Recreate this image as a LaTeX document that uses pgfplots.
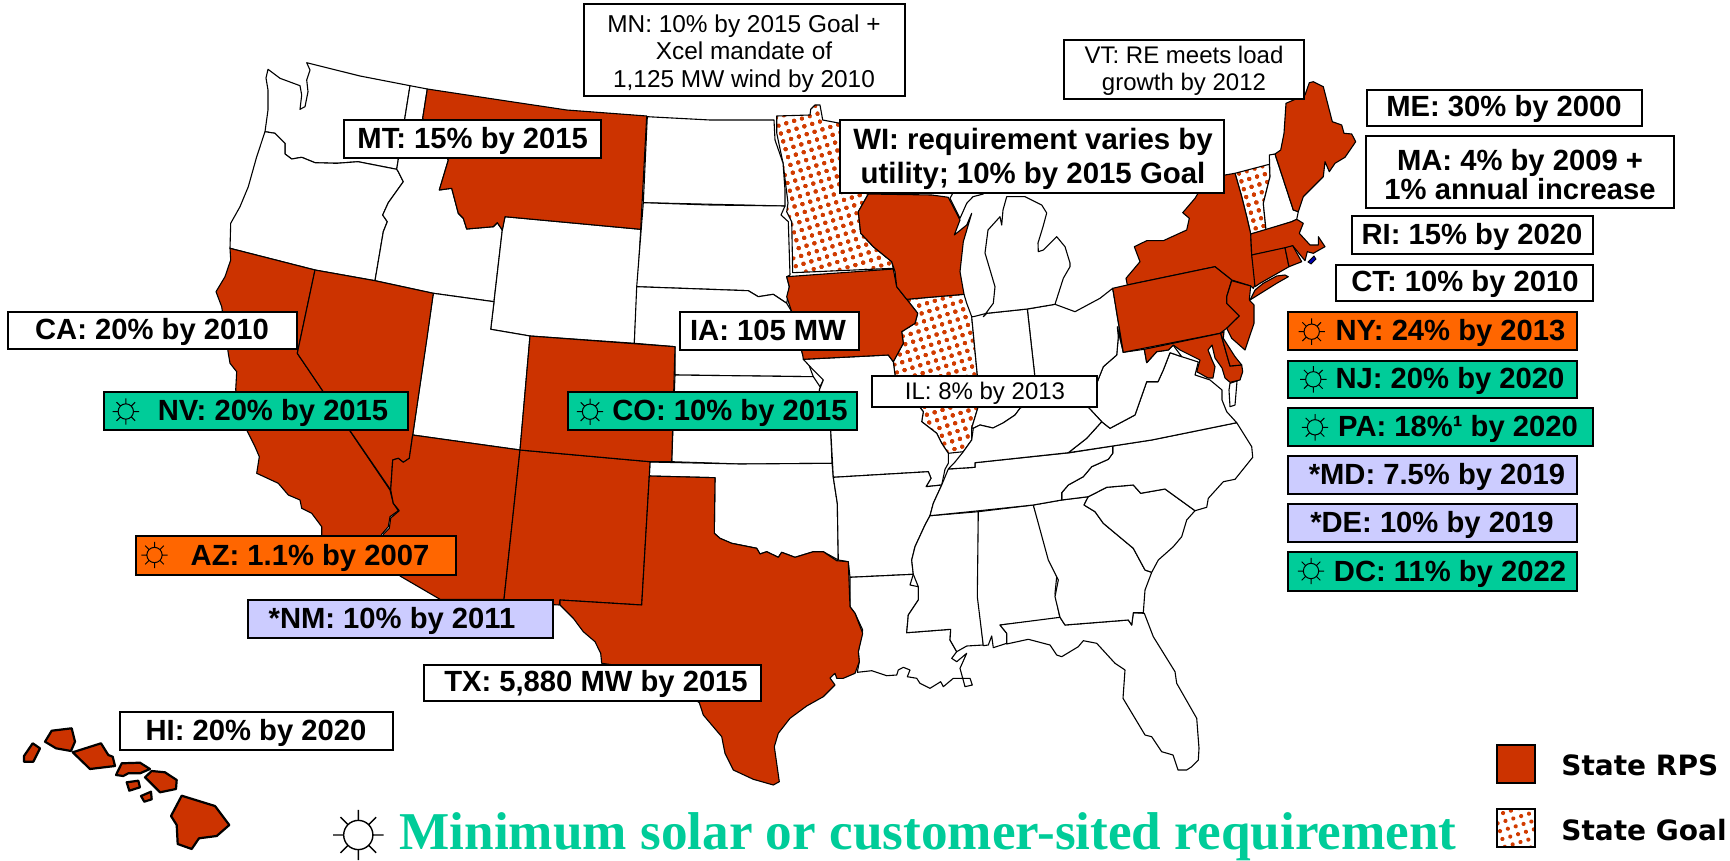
\documentclass[border=0pt]{standalone}
\usepackage{fontspec}
\setmainfont{Liberation Sans}
\newfontfamily\serifbold{Liberation Serif}
\newfontfamily\djv{DejaVu Sans}
\usepackage{pgfplots}
\pgfplotsset{compat=1.18}
\usetikzlibrary{patterns.meta}
\definecolor{rps}{HTML}{CC3300}
\definecolor{orng}{HTML}{FF6600}
\definecolor{teal2}{HTML}{00CC99}
\definecolor{lav}{HTML}{CCCCFF}
\tikzset{
 wst/.style={draw=black,line width=0.55pt,fill=white,line join=round},
 rst/.style={draw=black,line width=0.55pt,fill=rps,line join=round},
 gst/.style={draw=black,line width=0.55pt,line join=round,preaction={fill=white},
   pattern={Dots[distance=4.1pt,radius=1.05pt,angle=17]},pattern color=rps!90!orange,
   postaction={draw=white,line width=2.4pt},postaction={draw=black,line width=0.55pt}},
 hi/.style={draw=black,line width=1.1pt,fill=rps,line join=round},
}
\newcommand\st[2]{\addplot[#1] coordinates {#2} -- cycle;}
\newcommand\lab[7]{%
 \draw[fill=#5,draw=black,line width=1.15pt] (axis cs:#1,#2) rectangle (axis cs:#3,#4);
 \node[anchor=base,inner sep=0pt,font=\fontsize{14.6}{17}\selectfont\bfseries] at ([yshift=4.6pt]axis cs:#6,#4) {#7};}
\newcommand\bx[5]{\draw[fill=#5,draw=black,line width=1.15pt] (axis cs:#1,#2) rectangle (axis cs:#3,#4);}
\newcommand\txt[4]{\node[anchor=base,inner sep=0pt,font=#3] at (axis cs:#1,#2) {#4};}
\newcommand\sun[4]{\draw[shift={(axis cs:#1,#2)},line width=#4]
  (0,0) circle (#3*0.58)
  (0:#3*0.58)--(0:#3) (45:#3*0.58)--(45:#3) (90:#3*0.58)--(90:#3) (135:#3*0.58)--(135:#3)
  (180:#3*0.58)--(180:#3) (225:#3*0.58)--(225:#3) (270:#3*0.58)--(270:#3) (315:#3*0.58)--(315:#3);}
\begin{document}
\begin{tikzpicture}
\path[use as bounding box] (0,0) rectangle (865pt,430.5pt);
\begin{axis}[at={(0,0)},anchor=south west,scale only axis,width=865pt,height=430.5pt,
  xmin=0,xmax=1730,ymin=0,ymax=861,y dir=reverse,hide axis,clip=false]
% ---------- state goal (first: the neighbours' outlines lie over their white margin)
\st{gst}{(776.7,116)(810,115)(810.7,109.3)(815,105)(820,105)(822.7,120)(840,123.3)(868.3,194)(858.3,211.7)(860.7,233.3)(873.3,246.7)(891.7,261.7)(893.3,268.3)(792.7,272.7)(791.7,221.7)(786.7,211.7)(788,203)(783,163)(776.7,133)}
\st{gst}{(906.7,299.3)(964,294.3)(966.7,303.3)(971.7,316.7)(977.3,375)(977.7,408.3)(971.7,428)(971.7,440)(963.3,451.7)(948.3,453.3)(941.7,443.3)(936.7,433.3)(921.7,421.7)(923.3,411.7)(895,375)(893.3,361.7)(903.3,343.3)(901.7,331.7)(915,323.3)(917.7,313.3)}
\st{gst}{(1235,173.3)(1269.3,164.3)(1270,176.7)(1263.3,203.3)(1266,230)(1250.7,234)(1246.7,216.7)(1241.7,196.7)}
% ---------- white states
\st{wst}{(306.7,62.7)(360,76)(410,85.7)(396.7,169.3)(358,161.7)(336.7,163.3)(315,162.7)(301.7,157.3)(291.7,159)(285,154)(285,143.3)(275,133.3)(265,131.7)(268,110)(268,90)(266,78)(268,69.3)(280,78.3)(300,85.7)(301.7,95)(300,109.3)(305,106.7)(308,91.7)(306.7,80)(310,70)}
\st{wst}{(265,131.7)(275,133.3)(285,143.3)(285,154)(291.7,159)(301.7,157.3)(315,162.7)(336.7,163.3)(358,161.7)(396.7,169.3)(398.3,171.7)(403.3,181.7)(388.3,202.7)(382.7,215)(387.3,221.7)(383.3,231.7)(375,280.7)(315,270)(230,248.3)(230.7,223.3)(240,206.7)(248.3,186.7)(256.7,156.7)}
\st{wst}{(410,85.7)(427.3,89)(422.7,118.3)(448.3,160)(439.3,190)(451.7,188.3)(458.3,213.3)(463.3,218.3)(466.7,229)(493.3,226.7)(497.3,222.7)(502.3,230)(494,301.7)(433.3,293.3)(375,280.7)(383.3,231.7)(387.3,221.7)(382.7,215)(388.3,202.7)(403.3,181.7)(398.3,171.7)(396.7,169.3)}
\st{wst}{(505,216.7)(640.7,229.3)(634.3,343.3)(530,336)(490.7,329.3)(494,301.7)(502.3,230)}
\st{wst}{(433.3,293.3)(494,301.7)(490.7,329.3)(530,336)(520,450)(412.7,435)}
\st{wst}{(647.3,116.7)(710,120)(774,120)(775,140)(783,163)(785,190)(785,206)(643.3,202.7)}
\st{wst}{(643.3,202.7)(710,205)(785,206)(781,215)(788.3,221.7)(790,275)(786.7,276.7)(789.3,286.7)(786.7,303.3)(773.3,294.3)(758.3,296.7)(748.3,290.7)(636.7,286.7)}
\st{wst}{(636.7,286.7)(748.3,290.7)(758.3,296.7)(773.3,294.3)(786.7,303.3)(791.7,311.7)(802.7,355)(808.3,363.3)(813.3,376.7)(675,375)(675,346.7)(634.3,343.3)}
\st{wst}{(675,375)(813.3,376.7)(820,386.7)(823.3,380)(819.3,390)(830.7,430)(832,463.3)(740,464)(671.7,461.7)}
\st{wst}{(650,462)(740,464)(832,463.3)(833.3,477.3)(837.3,503.3)(838.3,560)(823.3,551.7)(813.3,551.7)(795,557.3)(781.7,552.3)(778.3,557.3)(766.7,551.7)(760,554)(756.7,548.3)(731.7,543.3)(720,538.3)(714.3,533.3)(715,477.7)(649.3,476)}
\st{wst}{(803.3,359.3)(888.3,355)(893.3,361.7)(895,375)(923.3,411.7)(921.7,421.7)(936.7,433.3)(941.7,443.3)(948.3,453.3)(948.3,463.3)(945,469.3)(941.7,485)(926,486.7)(931,478.3)(928.3,471.7)(833.3,477.3)(830.7,430)(819.3,390)(823.3,380)(813.3,370)}
\st{wst}{(833.3,477.3)(928.3,471.7)(931,478.3)(926,486.7)(941.7,485)(933.3,503.3)(930,515.7)(925,525)(915,546.7)(911.7,560)(913.3,574.3)(850,577.3)(848.3,561.7)(838.3,560)(837.3,503.3)}
\st{wst}{(850,577.3)(913.3,574.3)(910,585)(918.3,586.7)(918.3,600)(908.3,615)(906.7,632.7)(950.7,629.3)(950,640)(956.7,651.7)(951.7,658.3)(956.7,661.7)(966.7,653.3)(960,668.3)(965,686.7)(972.3,685)(970,678.3)(953.3,678.3)(943.3,686.7)(940.7,681.7)(930,688.3)(920,683.3)(916.7,678.3)(907.3,676.7)(910,670)(903.3,667.3)(898.3,670)(896.7,675)(886.7,675.7)(871.7,670.7)(857.3,672.3)(859.3,661.7)(858.3,651.7)(862.7,630)(855,613.3)(850,606.7)}
\st{wst}{(930,515.7)(978.3,511.7)(978.3,596.7)(983.3,645)(966.7,646)(956.7,651.7)(950,640)(950.7,629.3)(906.7,632.7)(908.3,615)(918.3,600)(918.3,586.7)(913.3,574.3)(911.7,560)(915,546.7)(925,525)}
\st{wst}{(978.3,511.7)(1033.3,505)(1043.3,536.7)(1056.7,576.7)(1055,593.3)(1060,618.3)(1000,625)(1006.7,633.3)(1006.7,643.3)(993.3,647.7)(991.7,636)(988.3,645)(983.3,645.7)(977.3,596.7)}
\st{wst}{(1000,625)(1060,617.3)(1065,625)(1128.3,620)(1131.7,625)(1133.3,612.7)(1144.3,613.3)(1153.3,636.7)(1175,671.7)(1176.7,683.3)(1196.7,718.3)(1199,748.3)(1198.3,760)(1191.7,766.7)(1186.7,770)(1178,770)(1173,755)(1161.7,751.7)(1151.7,736.7)(1145,735)(1130,710)(1123,698.3)(1125,670)(1115,663.3)(1096.7,643.3)(1083.3,640.7)(1078.3,646.7)(1061.7,656.7)(1056.7,655)(1050,645)(1028.3,639.3)(1006.7,644)(1006.7,633.3)}
\st{wst}{(1033.3,505)(1061.7,500)(1088.3,496.7)(1084,505)(1095,511.7)(1103.3,523.3)(1123.3,540)(1133.3,548.3)(1145,570)(1151.7,572.3)(1145,590)(1143.3,612.7)(1133.3,612.7)(1131.7,625)(1128.3,620)(1065,625)(1060,617.3)(1055,596.7)(1058.3,580)(1048.3,560)}
\st{wst}{(1088.3,496.7)(1106.7,487.3)(1133.3,485)(1140.7,493.3)(1165,489)(1195,510.7)(1186.7,520)(1181.7,536.7)(1173.3,546.7)(1158.3,560)(1151.7,572.3)(1145,570)(1133.3,548.3)(1123.3,540)(1103.3,523.3)(1095,511.7)(1084,505)}
\st{wst}{(1236.7,422.7)(1251.7,446.7)(1252.7,457.3)(1235,479.3)(1223.3,481.7)(1208.3,498.3)(1206.7,507.3)(1195,510.7)(1165,489)(1140.7,493.3)(1133.3,485)(1106.7,487.3)(1088.3,496.7)(1061.7,500)(1061.7,492.7)(1068.3,485)(1083.3,476.7)(1091.7,466.7)(1108.3,459.3)(1112.7,453.3)(1112.7,446)(1151.7,440)}
\st{wst}{(948.3,469)(975,467.3)(975,462.7)(1070,452.7)(1112.7,446)(1112.7,453.3)(1108.3,459.3)(1091.7,466.7)(1083.3,476.7)(1068.3,485)(1061.7,492.7)(1061.7,500)(1033.3,505)(976.7,511)(930,515.7)(933.3,503.3)(941.7,485)}
\st{wst}{(1068.3,452.7)(1086.7,438.3)(1101.7,421.7)(1110,428.3)(1135,415)(1146.7,381.7)(1158,381.7)(1163.3,370)(1170,352.7)(1181.7,356.7)(1198.3,362)(1195,375)(1210,380)(1222,390)(1222,400)(1226.7,411.7)(1236.7,422.7)(1151.7,440)(1112.7,446)}
\st{wst}{(1230,383.3)(1237,381)(1235,405)(1230,406.7)(1229,390)}
\st{wst}{(1117.3,326.7)(1123.3,352.3)(1144.3,349.3)(1146.7,362.7)(1156.7,351.7)(1168.3,350)(1173,345)(1181.7,356.7)(1170,352.7)(1163.3,370)(1158,381.7)(1146.7,381.7)(1135,415)(1110,428.3)(1101.7,421.7)(1088.3,407.3)(1098,380)(1103.3,366.7)(1116.7,355)(1118.3,336.7)}
\st{wst}{(1112.7,288.3)(1123.3,352.3)(1117.3,326.7)(1118.3,336.7)(1116.7,355)(1103.3,366.7)(1098,380)(1088.3,407.3)(1060,395)(1035,378)(1027.3,309)(1055,304.3)(1075,311.7)(1100,298.3)}
\st{wst}{(973.3,316.7)(986.7,313.3)(1027.3,309)(1035,378)(1033,400)(1020,408.3)(1015,415)(1003,423)(993,428)(980,425)(973.3,428.3)(971.7,428)(977.7,408.3)(977.3,375)(971.7,316.7)}
\st{wst}{(1020,408.3)(1033,400)(1035,378)(1060,395)(1088.3,407.3)(1101.7,421.7)(1086.7,438.3)(1068.3,452.7)(975,462.7)(975,467.3)(948.3,469)(955,462)(963.3,451.7)(971.7,440)(973.3,428.3)(980,425)(993,428)(1003,423)(1015,415)}
\st{wst}{(995,286.7)(993.3,303.3)(983.3,316.7)(986.7,313.3)(1027.3,309)(1055,304.3)(1063.3,278.3)(1070,266.7)(1070,263)(1065,246.7)(1056.7,236.7)(1043.3,250)(1038.3,251.7)(1038,243)(1043,226.7)(1046.7,213)(1041.7,205)(1025,196.7)(1006.7,196.7)(1003,210)(1001.7,225)(1000,216.7)(988,230)(985,253)}
\st{wst}{(950,198.3)(960,218.3)(966.7,203.3)(973,196.7)(983.3,194)(960,180)}
\st{wst}{(1275,154)(1293.3,210)(1298.3,211.7)(1296.7,219.3)(1291.7,221.7)(1266,230)(1263.3,203.3)(1270,176.7)(1269.3,155)}
% ---------- state RPS
\st{rst}{(427.3,89)(500,100)(566.7,110)(646.7,116)(640.7,229.3)(505,216.7)(502.3,230)(497.3,222.7)(493.3,226.7)(466.7,229)(463.3,218.3)(458.3,213.3)(451.7,188.3)(439.3,190)(448.3,160)(422.7,118.3)}
\st{rst}{(230,248.3)(315,270)(297.3,353.3)(323.3,391.7)(390,490)(393.3,503.3)(398.3,510.7)(390,516.7)(388.3,526.7)(381.7,534.3)(378,548)(321.7,545)(321.7,526.7)(311.7,513.3)(301.7,508.3)(300,500)(288.3,495)(278.3,483.3)(256.7,473.3)(259.3,456.7)(255,446.7)(246.7,430)(235.7,390)(236.7,371.7)(230,363.3)(228.3,353.3)(221.7,306.7)(216,291.7)(225,276.7)(230.7,260)}
\st{rst}{(315,270)(375,280.7)(433.3,293.3)(426.7,340)(412.7,435)(409.3,458.3)(403.3,462.3)(398.3,458.3)(392.7,460)(390.7,490)(323.3,391.7)(297.3,353.3)}
\st{rst}{(412.7,435)(520,450)(504,599.3)(440,599.3)(400,576)(384,552)(383.3,534.3)(389.3,528.3)(390.7,518)(399.3,510.7)(393.3,503.3)(390.7,490)(392.7,460)(398.3,458.3)(403.3,462.3)(409.3,458.3)}
\st{rst}{(520,450)(650,461.7)(649.3,476)(641.7,605)(560,600)(559.3,605)(540,604)(503,603)(504,599.3)}
\st{rst}{(530,336)(675,346.7)(671.7,461.7)(650,461.7)(520,450)}
\st{rst}{(649.3,476)(715,477.7)(714.3,533.3)(720,538.3)(731.7,543.3)(756.7,548.3)(760,554)(766.7,551.7)(778.3,557.3)(781.7,552.3)(795,557.3)(813.3,551.7)(823.3,551.7)(836.7,560.7)(848.3,561.7)(850,606.7)(855,613.3)(862.7,633.3)(858.3,651.7)(859.3,661.7)(855,673.3)(843.3,678.3)(836.7,678.3)(835,673.3)(830,678)(835,685)(823.3,696.7)(806.7,706)(790,718.3)(778.3,733.3)(774.3,746.7)(779.3,781.7)(773.3,785)(753.3,779.3)(733.3,770)(725,753.3)(721.7,736.7)(703.3,715)(699.3,702.7)(650,670)(601.7,663.3)(600.7,653.3)(595,641.7)(583.3,631.7)(573.3,618.3)(560,605)(560,600)(641.7,605)}
\st{rst}{(786.7,276.7)(893.3,269)(896.7,286.7)(906.7,299.3)(917.7,313.3)(915,323.3)(901.7,331.7)(903.3,343.3)(893.3,361.7)(888.3,355)(803.3,359.3)(802.7,355)(791.7,311.7)(786.7,296.7)(789.3,286.7)}
\st{rst}{(868.3,194)(931.7,195)(948.3,197.3)(960,220)(954.3,235)(966.7,225)(971.7,213.3)(963.3,241.7)(960,271.7)(964,294.3)(906.7,299.3)(896.7,286.7)(895,271.7)(891.7,261.7)(873.3,246.7)(860.7,233.3)(858.3,211.7)}
\st{rst}{(1225,175)(1235,173.3)(1241.7,196.7)(1246.7,216.7)(1250.7,234)(1251.7,255)(1256.7,281.7)(1253.3,288.3)(1250.7,286)(1231.7,280)(1215,266.7)(1127.3,285)(1126,278.3)(1140,261.7)(1134.3,246.7)(1146.7,240.7)(1163.3,240.7)(1186.7,230)(1189.3,218.3)(1182.7,212.7)(1195,198.3)(1200,190)}
\st{rst}{(1250,300)(1276.7,283.3)(1288.3,276.7)(1285,275)(1276.7,276)(1263.3,283.3)(1255,290)}
\st{rst}{(1112.7,288.3)(1127.3,285)(1215,266.7)(1231.7,280)(1226.7,296.7)(1226.7,303.3)(1239.3,316)(1226.7,328.3)(1220,333.3)(1123.3,352.3)}
\st{rst}{(1231.7,280.7)(1250.7,286)(1249.3,300)(1254,305)(1254,323.3)(1245,350)(1231.7,338.3)(1226.7,328.3)(1239.3,316)(1226.7,303.3)(1226.7,296.7)}
\st{rst}{(1144.3,349.3)(1220.7,333.3)(1230,366)(1241.7,365)(1242.7,371.7)(1240,380)(1230,382.3)(1225,378)(1222,368)(1215,358)(1212,345)(1208,350)(1212,360)(1215,366.7)(1213,378)(1208,378)(1196.7,371.7)(1200,360)(1190,355)(1180,350)(1173.3,345)(1168.3,350)(1156.7,351.7)(1146.7,362.7)}
\st{rst}{(1220.7,333.3)(1224,331.7)(1223.3,338.3)(1235,356.7)(1241.7,365)(1230,366)}
\st{rst}{(1250.7,234)(1291.7,221.7)(1296.7,219.3)(1303.3,223.3)(1299.3,233.3)(1310,245)(1318.3,245)(1318.3,236.7)(1325,246.7)(1313.3,253.3)(1307.3,251.7)(1305,260.7)(1301.7,256.7)(1292.7,245.7)(1286.7,248.3)(1251.7,255)}
\st{rst}{(1251.7,255)(1285,247.7)(1289,266.7)(1260,283.3)(1255,286.7)}
\st{rst}{(1285,247.7)(1292.7,245.7)(1301.7,261.7)(1289,266.7)}
\st{rst}{(1309.3,82.7)(1313.3,81.7)(1323.3,86.7)(1332.3,121.7)(1341.7,125)(1344,133.3)(1351.7,134)(1355.7,141.7)(1345,157.3)(1335,163.3)(1329.3,171.7)(1325,161.7)(1323.3,176.7)(1311.7,188.3)(1303.3,196.7)(1298.3,211.7)(1293.3,210)(1275,154)(1280.7,150)(1284,133.3)(1286,103.3)(1305,95)}
\addplot[draw=black,fill=blue!70!black,line width=0.4pt] coordinates {(1308,262)(1314,256)(1316,259)(1311,264)} -- cycle;
% ---------- Hawaii
\st{hi}{(181.7,795.7)(215,806)(229.3,825)(216.7,836)(199,838.3)(191.7,849)(177.7,844)(176.7,825)(171,816)}
\st{hi}{(145,777.3)(151.7,771)(165,772.3)(176.7,780)(176,789)(160,792.3)(152.7,785)}
\st{hi}{(116,775)(121.7,763.3)(140,762.7)(150,769)(140,773.3)(128.3,773.3)(123.3,776)}
\st{hi}{(126.7,782.3)(138.3,780.7)(140,787.3)(129.3,790.7)}
\st{hi}{(141,796)(151,791.7)(151.7,799.3)(144.3,801.7)}
\st{hi}{(72.7,752.3)(101,743.3)(108.3,755)(112.7,756.7)(115,766)(90,769)}
\st{hi}{(45,741.7)(51.7,730.7)(71.7,728.3)(75,741.7)(71,751)(56,748.3)}
\st{hi}{(24,756)(32.7,743.3)(40,748.3)(33.3,761.7)(24,761.7)}
% ---------- labels
\lab{344}{120}{601}{158}{white}{472.7}{MT: 15\% by 2015}
\lab{8}{312}{297}{349}{white}{152}{CA: 20\% by 2010}
\lab{104}{392}{408}{430}{teal2}{273}{NV: 20\% by 2015}
\sun{125.8}{411.5}{6.6pt}{0.5pt}
\lab{136}{536}{456}{575}{orng}{310}{AZ: 1.1\% by 2007}
\sun{154.5}{555}{6.6pt}{0.5pt}
\lab{248}{600}{553}{638}{lav}{392}{*NM: 10\% by 2011}
\lab{424}{665}{761}{701}{white}{596}{TX: 5,880 MW by 2015}
\lab{120}{712}{393}{750}{white}{256}{HI: 20\% by 2020}
\lab{568}{392}{857}{430}{teal2}{730}{CO: 10\% by 2015}
\sun{590}{411.7}{6.6pt}{0.5pt}
\lab{680}{312}{859}{350}{white}{768}{IA: 105 MW}
\lab{1367}{90}{1642}{126}{white}{1504}{ME: 30\% by 2000}
\bx{1366}{136}{1674}{208}{white}
\txt{1520}{171}{\fontsize{14.6}{17}\selectfont\bfseries}{MA: 4\% by 2009 +}
\txt{1520}{200}{\fontsize{14.6}{17}\selectfont\bfseries}{1\% annual increase}
\lab{1352}{216}{1593}{254}{white}{1472}{RI: 15\% by 2020}
\lab{1336}{265}{1593}{301}{white}{1465}{CT: 10\% by 2010}
\lab{1288}{312}{1577}{350}{orng}{1450.5}{NY: 24\% by 2013}
\sun{1311.7}{331.7}{6.6pt}{0.5pt}
\lab{1288}{361}{1577}{398}{teal2}{1450}{NJ: 20\% by 2020}
\sun{1313.3}{379.3}{6.6pt}{0.5pt}
\lab{1288}{408}{1593}{446}{teal2}{1458}{PA: 18\%¹ by 2020}
\sun{1315}{427.3}{6.6pt}{0.5pt}
\lab{1288}{456}{1577}{494}{lav}{1437}{*MD: 7.5\% by 2019}
\lab{1288}{504}{1577}{542}{lav}{1432}{*DE: 10\% by 2019}
\lab{1288}{552}{1577}{591}{teal2}{1450}{DC: 11\% by 2022}
\sun{1311}{571}{6.6pt}{0.5pt}
% WI
\bx{840}{120}{1224}{192.7}{white}
\txt{1033}{149.5}{\fontsize{14.7}{17}\selectfont\bfseries}{WI: requirement varies by}
\txt{1033}{184}{\fontsize{14.7}{17}\selectfont\bfseries}{utility; 10\% by 2015 Goal}
% thin-font boxes
\draw[fill=white,draw=black,line width=0.9pt] (axis cs:872.3,376) rectangle (axis cs:1096.7,407.3);
\txt{985}{400}{\fontsize{12}{14}\selectfont}{IL: 8\% by 2013}
\draw[fill=white,draw=black,line width=0.9pt] (axis cs:584,4) rectangle (axis cs:905,96);
\txt{744}{33}{\fontsize{12.2}{14}\selectfont}{MN: 10\% by 2015 Goal +}
\txt{744}{60}{\fontsize{12.2}{14}\selectfont}{Xcel mandate of}
\txt{744}{88}{\fontsize{12.2}{14}\selectfont}{1,125 MW wind by 2010}
\draw[fill=white,draw=black,line width=0.9pt] (axis cs:1064,40) rectangle (axis cs:1304,99.3);
\txt{1184}{64}{\fontsize{12}{14}\selectfont}{VT: RE meets load}
\txt{1184}{91}{\fontsize{12}{14}\selectfont}{growth by 2012}
% ---------- bottom line and legend
\sun{358.3}{835}{12.6pt}{0.7pt}
\txt{928}{849}{\fontsize{26.6}{30}\selectfont\serifbold\bfseries\color{teal2}}{Minimum solar or customer-sited requirement}
\draw[fill=rps,draw=black,line width=1.2pt] (axis cs:1497,745) rectangle (axis cs:1535,783);
\addplot[draw=black,line width=1.2pt,preaction={fill=white},pattern={Dots[distance=4.1pt,radius=1.05pt,angle=17]},pattern color=rps!90!orange] coordinates {(1497,809)(1535,809)(1535,847)(1497,847)} -- cycle;
\node[anchor=base west,inner sep=0pt,font=\fontsize{14}{17}\selectfont\djv\bfseries] at (axis cs:1561,775) {State RPS};
\node[anchor=base west,inner sep=0pt,font=\fontsize{14}{17}\selectfont\djv\bfseries] at (axis cs:1561,840) {State Goal};
\end{axis}
\end{tikzpicture}
\end{document}
